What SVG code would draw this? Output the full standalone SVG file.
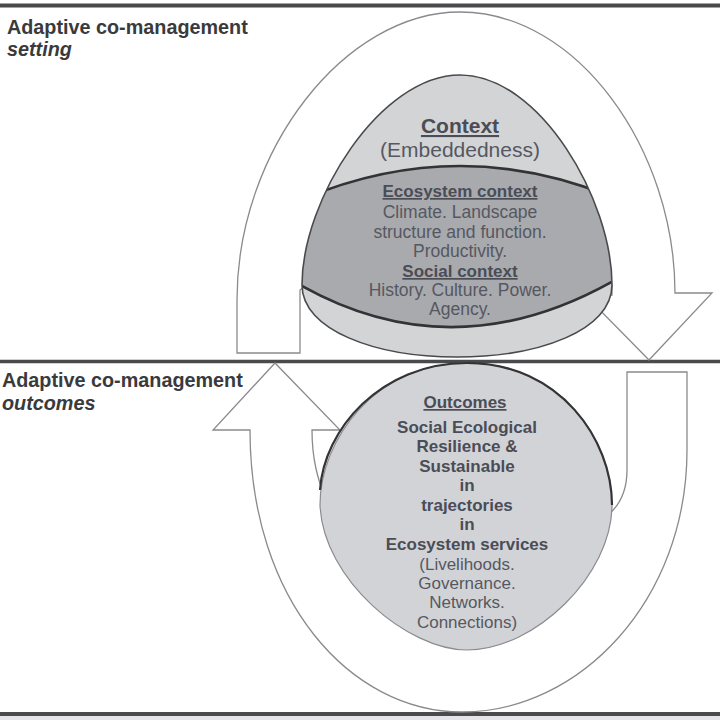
<svg xmlns="http://www.w3.org/2000/svg" width="720" height="720" viewBox="0 0 720 720">
<style>
.lbl{font-family:"Liberation Sans",Arial,sans-serif;font-weight:bold;font-size:19.8px;fill:#3a3a3c}
.it{font-style:italic}
.rule{stroke:#4a4a4c;stroke-width:4;fill:none}
.arrow{fill:#fff;stroke:#8a8a8c;stroke-width:1.3;stroke-linejoin:miter}
.t{font-family:"Liberation Sans",Arial,sans-serif;text-anchor:middle;fill:#555862}
.h{font-weight:bold;fill:#4a4d56}
.u{text-decoration:underline}
</style>
<defs>
<clipPath id="domeClip"><path d="M460,75 C540,75 612,200 612,285 C612,330 540,357 457,357 C375,357 302,330 302,285 C302,200 380,75 460,75 Z"/></clipPath>
</defs>
<rect x="0" y="0" width="720" height="720" fill="#fff"/>
<rect x="0" y="716" width="720" height="4" fill="#e4e5e8"/>
<g id="rules">
<line class="rule" x1="0" y1="5.5" x2="720" y2="5.5"/>
<line class="rule" x1="0" y1="361.5" x2="720" y2="361.5" style="stroke-width:3.5"/>
<line class="rule" x1="0" y1="714" x2="720" y2="714"/>
</g>
<g id="connectors">
<path class="arrow" d="M237,353 L237,300 C237,150 345,12 460,12 C578,12 675,150 675,293 L712,293 L649,360 L585,295 L612,295 L612,285 L560,250 L460,200 L350,250 L300,290 L300,353 Z"/>
<path class="arrow" d="M687,372 L627,372 L627,470 C627,490 620,505 608,515 L467,600 L326,500 C318,480 312,460 312,430 L340,430 L275,363 L213,430 L250,430 C250,600 350,712 462,712 C580,712 687,600 687,450 Z"/>
</g>
<g id="setting-label">
<text class="lbl" x="7" y="34">Adaptive co-management</text>
<text class="lbl it" x="7" y="56">setting</text>
</g>
<g id="outcomes-label">
<text class="lbl" x="2" y="387">Adaptive co-management</text>
<text class="lbl it" x="2" y="410">outcomes</text>
</g>
<g id="context">
<path d="M460,75 C540,75 612,200 612,285 C612,330 540,357 457,357 C375,357 302,330 302,285 C302,200 380,75 460,75 Z" fill="#d3d4d6"/>
<g clip-path="url(#domeClip)">
<path d="M285,207 Q460,125 635,207 L635,268 Q455,382 285,276 Z" fill="#a9aaad"/>
<path d="M285,207 Q460,125 635,207" fill="none" stroke="#333336" stroke-width="2.6"/>
<path d="M285,276 Q455,382 635,268" fill="none" stroke="#333336" stroke-width="2.6"/>
</g>
<path d="M460,75 C540,75 612,200 612,285 C612,330 540,357 457,357 C375,357 302,330 302,285 C302,200 380,75 460,75 Z" fill="none" stroke="#4a4a4d" stroke-width="1.6"/>
<text class="t h u" x="460" y="133" font-size="21">Context</text>
<text class="t" x="460" y="157" font-size="21">(Embeddedness)</text>
<text class="t h u" x="460" y="197" font-size="17">Ecosystem context</text>
<text class="t" x="460" y="218" font-size="17.5">Climate. Landscape</text>
<text class="t" x="460" y="238" font-size="17.5">structure and function.</text>
<text class="t" x="460" y="257" font-size="17.5">Productivity.</text>
<text class="t h u" x="460" y="277" font-size="17">Social context</text>
<text class="t" x="460" y="296" font-size="17.5">History. Culture. Power.</text>
<text class="t" x="460" y="315" font-size="17.5">Agency.</text>
</g>
<g id="outcomes">
<path d="M467,363 C560,363 612,440 612,505 C612,575 535,650 467,650 C408,650 323,580 320,505 C320,440 375,363 467,363 Z" fill="#d2d3d6" stroke="#8c8c90" stroke-width="1.2"/>
<path d="M320,490 C324,430 380,363 467,363 C560,363 612,440 612,505" fill="none" stroke="#343437" stroke-width="2.2"/>
<text class="t h u" x="465" y="408" font-size="17">Outcomes</text>
<text class="t h" x="467" y="433" font-size="17">Social Ecological</text>
<text class="t h" x="467" y="452" font-size="17">Resilience &amp;</text>
<text class="t h" x="467" y="472" font-size="17">Sustainable</text>
<text class="t h" x="467" y="491" font-size="17">in</text>
<text class="t h" x="467" y="511" font-size="17">trajectories</text>
<text class="t h" x="467" y="530" font-size="17">in</text>
<text class="t h" x="467" y="550" font-size="17">Ecosystem services</text>
<text class="t" x="467" y="570" font-size="17">(Livelihoods.</text>
<text class="t" x="467" y="589" font-size="17">Governance.</text>
<text class="t" x="467" y="608" font-size="17">Networks.</text>
<text class="t" x="467" y="628" font-size="17">Connections)</text>
</g>
</svg>
